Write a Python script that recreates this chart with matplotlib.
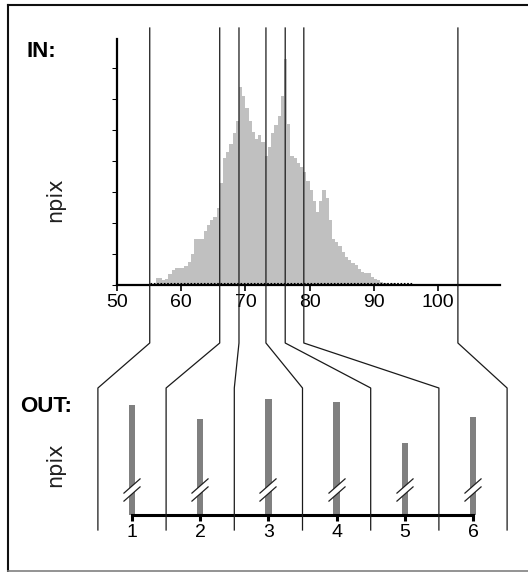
import numpy as np
import matplotlib
matplotlib.use('Agg')
import matplotlib.pyplot as plt
from matplotlib.path import Path

W, H = 528, 572

# input histogram: npix per grey-level bin
bin_start = 56.0
bin_width = 0.5
hist_counts = [230, 230, 160, 200, 350, 480, 550, 550, 550, 600,
               740, 1000, 1500, 1470, 1500, 1750, 1950, 2100, 2200, 2500,
               3300, 4100, 4300, 4550, 4900, 5300, 6400, 6100, 5700, 5300,
               4950, 4700, 4850, 4600, 4150, 4450, 4900, 5150, 5450, 6100,
               7300, 5200, 4150, 4100, 3950, 3800, 3650, 3350, 3050, 2700,
               2350, 2700, 3050, 2800, 2100, 1500, 1400, 1250, 1050, 900,
               800, 700, 650, 520, 420, 400, 380, 250, 200, 150,
               100, 60, 40, 60, 60, 40, 30, 20]
in_ticks = [50, 60, 70, 80, 90, 100]

# class limits on the input scale
thresholds = [55.1, 66.0, 69.0, 73.2, 76.2, 79.1, 103.1]

# output classes
out_classes = [1, 2, 3, 4, 5, 6]
out_counts = [11000, 9600, 11600, 11300, 7200, 9800]
out_edges = [0.5, 1.5, 2.5, 3.5, 4.5, 5.5, 6.5]

NARROW = ['Liberation Sans Narrow', 'Liberation Sans', 'DejaVu Sans']
BREAK_AT = 2500


def box(x0, y0, x1, y1):
    # pixel box (top-left origin) -> figure fraction rect
    return [x0 / W, 1 - y1 / H, (x1 - x0) / W, (y1 - y0) / H]


fig = plt.figure(figsize=(W / 100, H / 100), dpi=100, facecolor='white')

# IN histogram ########
hist_ax = fig.add_axes(box(117, 39, 500, 285))
edges = bin_start + bin_width * np.arange(len(hist_counts) + 1)
hist_ax.stairs(hist_counts, edges, fill=True, color='#c0c0c0', linewidth=0)
hist_ax.plot([thresholds[0], 96.1], [65, 65], color='black', lw=0.8,
             dashes=(1.5, 1.5), clip_on=False)
hist_ax.set_xlim(50, 50 + 383 / 6.42)
hist_ax.set_ylim(0, 246 * 1000 / 31)
hist_ax.set_xticks(in_ticks)
hist_ax.set_yticks(np.arange(0, 8000, 1000))
hist_ax.set_yticklabels([])
for side in ('top', 'right'):
    hist_ax.spines[side].set_visible(False)
for side in ('left', 'bottom'):
    hist_ax.spines[side].set_linewidth(1.6)
hist_ax.tick_params(axis='y', direction='out', length=3.6, width=0.75)
hist_ax.tick_params(axis='x', direction='out', length=4.3, width=1.2, pad=2,
                    labelsize=14)
for lab in hist_ax.get_xticklabels():
    lab.set_family(NARROW)
hist_ax.patch.set_visible(False)

# OUT classes ########
out_ax = fig.add_axes(box(97.9, 388, 507.1, 515))
out_ax.bar(out_classes, out_counts, width=0.095, color='#808080')
gap = Path([(-9, -3), (8, 12), (8, 4), (-9, -11), (-9, -3)],
           [Path.MOVETO, Path.LINETO, Path.LINETO, Path.LINETO, Path.CLOSEPOLY])
strokes = Path([(-9, -3), (8, 12), (-9, -11), (8, 4)],
               [Path.MOVETO, Path.LINETO, Path.MOVETO, Path.LINETO])
out_ax.plot(out_classes, [BREAK_AT] * len(out_classes), ls='none', marker=gap,
            ms=17.3, mfc='white', mec='none')
out_ax.plot(out_classes, [BREAK_AT] * len(out_classes), ls='none', marker=strokes,
            ms=17.3, fillstyle='none', mec='#202020', mew=0.9)
out_ax.set_xlim(0.5, 6.5)
out_ax.set_ylim(0, 12700)
out_ax.set_xticks(out_classes)
out_ax.set_yticks([])
for side in ('top', 'right', 'left'):
    out_ax.spines[side].set_visible(False)
out_ax.spines['bottom'].set_bounds(1, 6)
out_ax.spines['bottom'].set_linewidth(2.2)
out_ax.tick_params(axis='x', direction='out', length=4.3, width=2.2, pad=2,
                   labelsize=14)
for lab in out_ax.get_xticklabels():
    lab.set_family(NARROW)
out_ax.patch.set_visible(False)

# overlay in figure pixels: frame, captions, class connectors ########
frame = fig.add_axes([0, 0, 1, 1])
frame.set_xlim(0, W)
frame.set_ylim(H, 0)
frame.axis('off')
frame.patch.set_visible(False)
frame.set_zorder(5)

frame.plot([8, W], [5, 5], color='#101010', lw=1.5)
frame.plot([8, 8], [5, H - 1], color='#101010', lw=1.5)
frame.plot([8, W], [H - 1, H - 1], color='#808080', lw=1.2)

frame.text(27, 57, 'IN:', fontsize=16, fontweight='bold',
           family=['Liberation Sans', 'DejaVu Sans'], va='baseline')
frame.text(20, 412, 'OUT:', fontsize=16, fontweight='bold',
           family=['Liberation Sans', 'DejaVu Sans'], va='baseline')
frame.text(55, 200, 'npix', rotation=90, ha='center', va='center', fontsize=15,
           color='#202020')
frame.text(55, 465, 'npix', rotation=90, ha='center', va='center', fontsize=15,
           color='#202020')

for thr, edge in zip(thresholds, out_edges):
    xa = hist_ax.transData.transform((thr, 0))[0]
    xb = out_ax.transData.transform((edge, 0))[0]
    frame.plot([xa, xa, xb, xb], [28, 343, 388, 530], color='#1a1a1a', lw=0.9)

fig.savefig('out.png', dpi=100, facecolor='white')
